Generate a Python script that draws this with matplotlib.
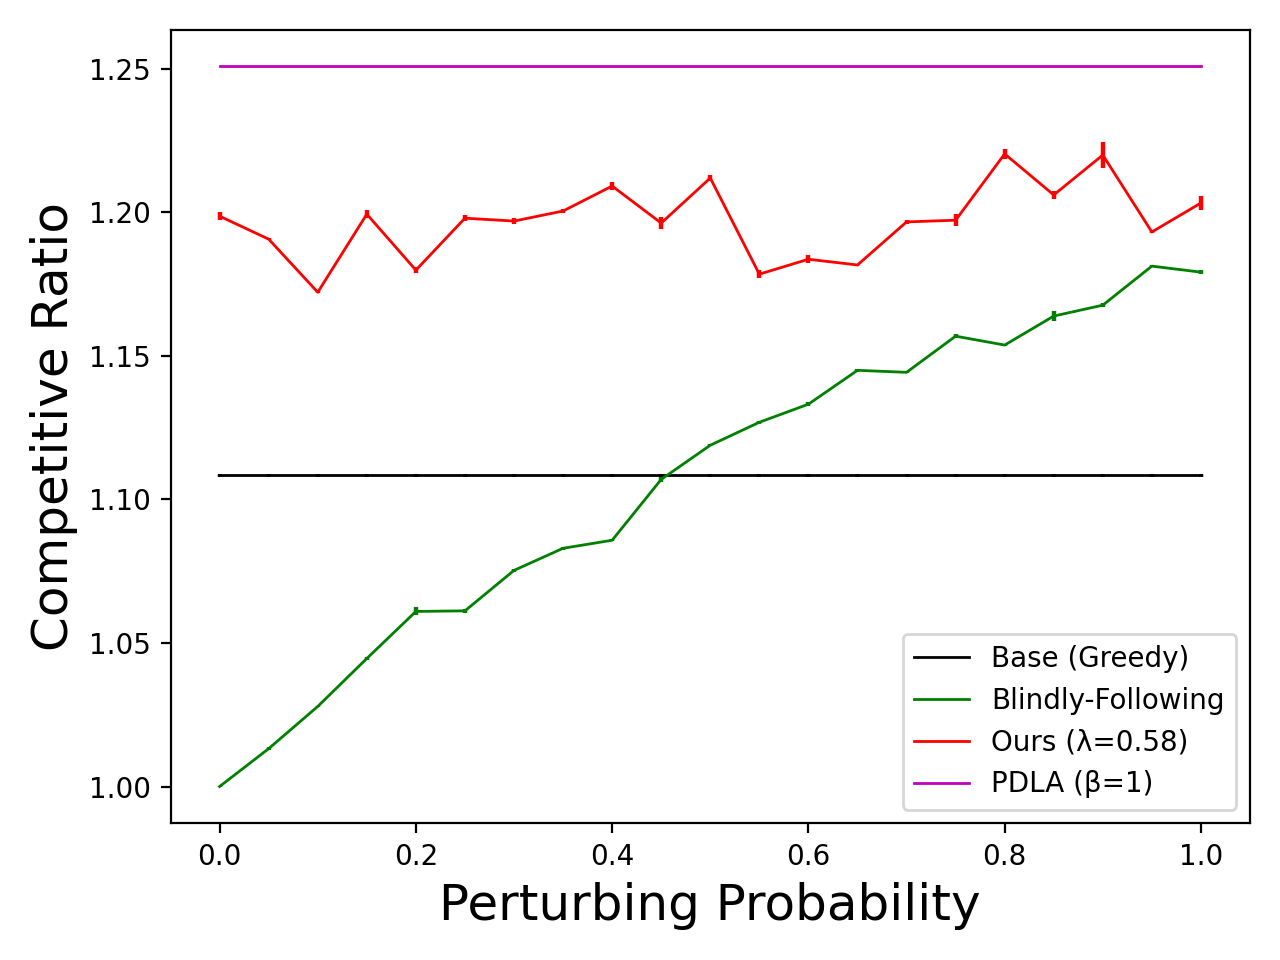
import numpy as np
import matplotlib
matplotlib.use('Agg')
import matplotlib.pyplot as plt
from matplotlib.lines import Line2D

# perturbing probabilities
probs = np.round(np.arange(0, 1.0001, 0.05), 2)

# competitive ratios (means) and error bar half-widths
base_mean = [1.1084] * 21
base_err = [0.0004] * 21

blind_mean = [1.0000, 1.0132, 1.0279, 1.0446, 1.0610, 1.0612, 1.0753, 1.0830,
              1.0858, 1.1070, 1.1189, 1.1269, 1.1332, 1.1450, 1.1443, 1.1569,
              1.1538, 1.1639, 1.1677, 1.1813, 1.1792]
blind_err = [0.0003, 0.0004, 0.0003, 0.0004, 0.0014, 0.0006, 0.0006, 0.0005,
             0.0003, 0.0008, 0.0004, 0.0006, 0.0008, 0.0005, 0.0003, 0.0007,
             0.0004, 0.0017, 0.0006, 0.0003, 0.0006]

ours_mean = [1.1987, 1.1907, 1.1722, 1.1994, 1.1799, 1.1980, 1.1970, 1.2005,
             1.2092, 1.1963, 1.2120, 1.1785, 1.1837, 1.1817, 1.1967, 1.1973,
             1.2204, 1.2061, 1.2200, 1.1932, 1.2033]
ours_err = [0.0013, 0.0004, 0.0004, 0.0014, 0.0010, 0.0011, 0.0010, 0.0008,
            0.0014, 0.0020, 0.0010, 0.0014, 0.0014, 0.0004, 0.0008, 0.0020,
            0.0017, 0.0014, 0.0045, 0.0004, 0.0025]

pdla_mean = [1.2510] * 21
pdla_err = [0.0] * 21

labels = ['Base (Greedy)', 'Blindly-Following', 'Ours (λ=0.58)', 'PDLA (β=1)']
colors = ['k', 'g', 'r', 'm']

plt.figure(figsize=(6.4, 4.8), dpi=200)
series = [(base_mean, base_err), (blind_mean, blind_err),
          (ours_mean, ours_err), (pdla_mean, pdla_err)]
for (m, e), c in zip(series, colors):
    plt.errorbar(probs, m, yerr=e, color=c, linewidth=1, elinewidth=1.6)

handles = [Line2D([], [], color=c, linewidth=1) for c in colors]
plt.xlabel('Perturbing Probability', fontsize=18)
plt.ylabel('Competitive Ratio', fontsize=18)
plt.legend(handles, labels, loc='lower right')
plt.tight_layout()
plt.savefig('out.png', dpi=200)
